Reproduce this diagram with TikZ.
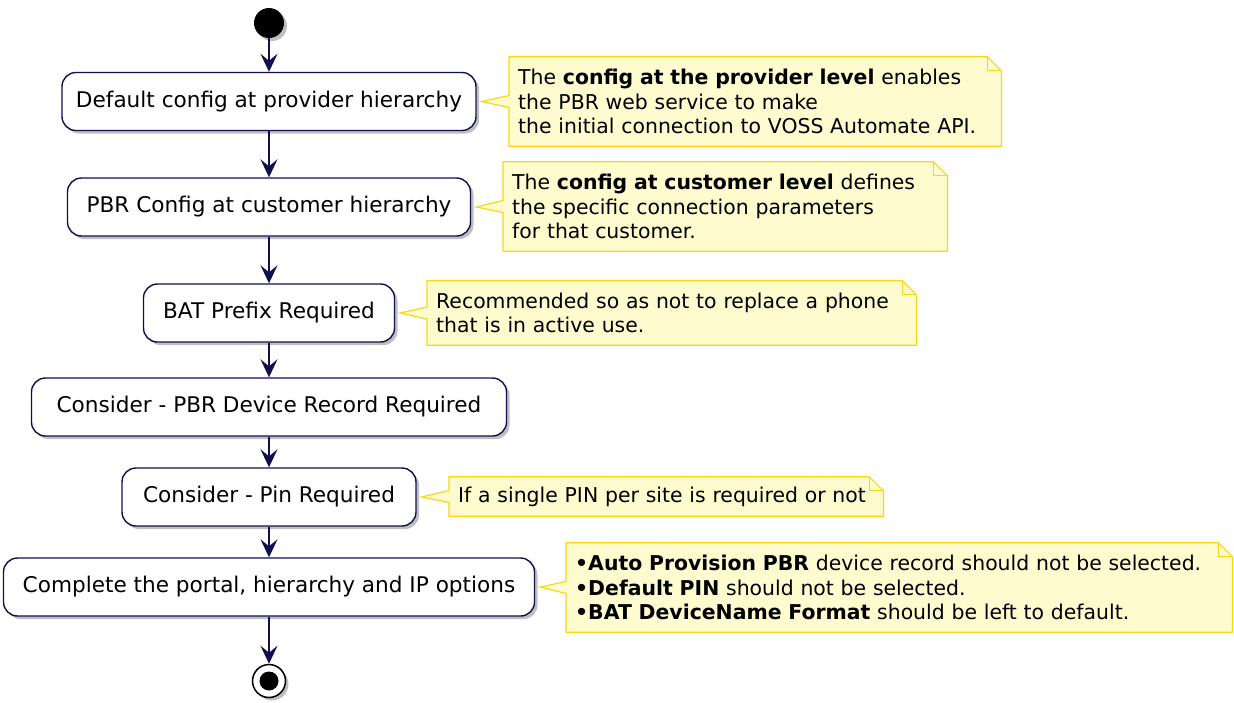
\documentclass[tikz,border=0pt]{standalone}
\usepackage{fontspec}
\setmainfont{DejaVu Sans}
\usepackage{tikz}
\usetikzlibrary{arrows.meta, calc, shadows, backgrounds}
\definecolor{actline}{RGB}{16,16,80}
\definecolor{notefill}{RGB}{254,251,206}
\definecolor{noteline}{RGB}{250,215,20}

\begin{document}
\begin{tikzpicture}[x=1pt, y=-1pt, >={Stealth[length=18pt, width=17pt, inset=7pt]},
      act/.style={draw=actline, line width=1.4pt, fill=white, rounded corners=14pt, minimum height=58pt, inner sep=0pt, font=\fontsize{21.6}{26}\selectfont, drop shadow={shadow xshift=3pt, shadow yshift=-3pt, opacity=0.5}},
      note/.style={anchor=west, align=left, inner xsep=9pt, inner ysep=0pt, font=\fontsize{20.4}{24.5}\selectfont},
      noteframe/.style={draw=noteline, fill=notefill, line width=1.2pt},
      flow/.style={->, draw=actline, line width=1.8pt},
      startdot/.style={circle, fill=black, minimum size=30pt, inner sep=0pt, drop shadow={shadow xshift=3pt, shadow yshift=-3pt, opacity=0.5}},
      stopdot/.style={circle, draw=black, line width=1.5pt, fill=white, minimum size=33pt, inner sep=0pt, drop shadow={shadow xshift=3pt, shadow yshift=-3pt, opacity=0.5}}]
    \useasboundingbox (0,0) rectangle (1234,702);
    % --- activities, top to bottom ---
    \node[startdot] (start) at (269,23) {};
    \node[act, minimum width=414pt] (a1) at (269,101.5) {Default config at provider hierarchy};
    \node[act, minimum width=403pt] (a2) at (269,207)   {PBR Config at customer hierarchy};
    \node[act, minimum width=251pt] (a3) at (269,313)   {BAT Prefix Required};
    \node[act, minimum width=475pt] (a4) at (269,407)   {Consider - PBR Device Record Required};
    \node[act, minimum width=294pt] (a5) at (269,497)   {Consider - Pin Required};
    \node[act, minimum width=531pt] (a6) at (269,587)   {Complete the portal, hierarchy and IP options};
    \node[stopdot] (stop) at (269,681) {};
    \node[circle, fill=black, minimum size=19pt, inner sep=0pt] (stopin) at (stop) {};
    \draw[flow] (start) -- (a1);
    \draw[flow] (a1) -- (a2);
    \draw[flow] (a2) -- (a3);
    \draw[flow] (a3) -- (a4);
    \draw[flow] (a4) -- (a5);
    \draw[flow] (a5) -- (a6);
    \draw[flow] (a6) -- (stop.north);
    % --- notes on the right ---
    \node[note, text width=474pt, minimum height=89pt] (n1) at (509,101.5)
      {The \textbf{config at the provider level} enables\\the PBR web service to make\\the initial connection to VOSS Automate API.};
    \node[note, text width=426pt, minimum height=89pt] (n2) at (503,206.5)
      {The \textbf{config at customer level} defines\\the specific connection parameters\\for that customer.};
    \node[note, text width=471pt, minimum height=64pt] (n3) at (427,313)
      {Recommended so as not to replace a phone\\that is in active use.};
    \node[note, text width=416pt, minimum height=39pt] (n4) at (449,496.5)
      {If a single PIN per site is required or not};
    \node[note, text width=648pt, minimum height=89pt] (n5) at (566,587.5)
      {\textbf{\textbullet Auto Provision PBR} device record should not be selected.\\\textbf{\textbullet Default PIN} should not be selected.\\\textbf{\textbullet BAT DeviceName Format} should be left to default.};
    \begin{pgfonlayer}{background}
      \foreach \n/\a in {n1/a1, n2/a2, n3/a3, n4/a5, n5/a6} {
        \draw[noteframe] (\n.north west) -- ([xshift=-14pt]\n.north east) -- ([yshift=-14pt]\n.north east)
          -- (\n.south east) -- (\n.south west) -- ([yshift=-6pt]\n.west) -- ($(\a.east)+(5,0)$)
          -- ([yshift=6pt]\n.west) -- cycle;
        \draw[noteframe, fill=none] ([xshift=-14pt]\n.north east) -- ([xshift=-14pt, yshift=-14pt]\n.north east)
          -- ([yshift=-14pt]\n.north east);
      }
    \end{pgfonlayer}
\end{tikzpicture}
\end{document}
